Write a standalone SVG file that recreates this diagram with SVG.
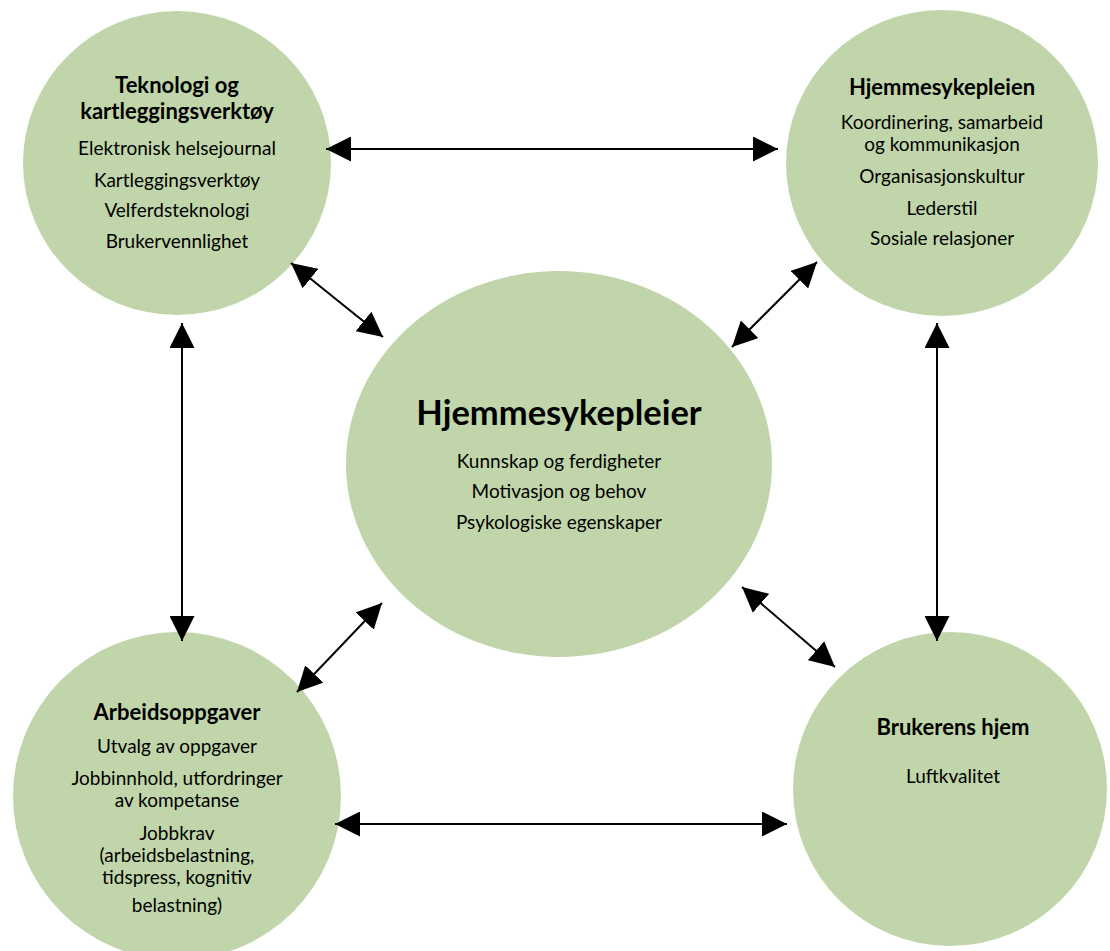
<svg xmlns="http://www.w3.org/2000/svg" width="1110" height="951" viewBox="0 0 1110 951">
<style>
.node{fill:#C0D6AA;}
.t{font-family:Lato,"Liberation Sans",sans-serif;fill:#000;text-anchor:middle;}
.h{font-size:22px;font-weight:bold;}
.b{font-size:19px;}
.c{font-size:34.5px;font-weight:bold;}
.con line{stroke:#000;stroke-width:2;marker-start:url(#ah);marker-end:url(#ah);}
</style>
<defs>
<marker id="ah" markerUnits="userSpaceOnUse" markerWidth="25" markerHeight="25" viewBox="0 0 25 25" refX="25" refY="12.5" orient="auto-start-reverse">
<path d="M0,0 L25,12.5 L0,25 z" fill="#000"/>
</marker>
</defs>
<rect width="1110" height="951" fill="#fff"/>
<g id="teknologi">
<ellipse class="node" cx="177" cy="163" rx="154" ry="152"/>
<text class="t h" x="177" y="93">Teknologi og</text>
<text class="t h" x="177" y="119">kartleggingsverktøy</text>
<text class="t b" x="177" y="155">Elektronisk helsejournal</text>
<text class="t b" x="177" y="187">Kartleggingsverktøy</text>
<text class="t b" x="177" y="217">Velferdsteknologi</text>
<text class="t b" x="177" y="248">Brukervennlighet</text>
</g>
<g id="hjemmesykepleien">
<ellipse class="node" cx="942" cy="163" rx="156" ry="153"/>
<text class="t h" x="942" y="95">Hjemmesykepleien</text>
<text class="t b" x="942" y="129">Koordinering, samarbeid</text>
<text class="t b" x="942" y="151">og kommunikasjon</text>
<text class="t b" x="942" y="183">Organisasjonskultur</text>
<text class="t b" x="942" y="215">Lederstil</text>
<text class="t b" x="942" y="245">Sosiale relasjoner</text>
</g>
<g id="hjemmesykepleier">
<ellipse class="node" cx="559" cy="464" rx="213" ry="193"/>
<text class="t c" x="559" y="425">Hjemmesykepleier</text>
<text class="t b" x="559" y="468">Kunnskap og ferdigheter</text>
<text class="t b" x="559" y="498">Motivasjon og behov</text>
<text class="t b" x="559" y="529">Psykologiske egenskaper</text>
</g>
<g id="arbeidsoppgaver">
<ellipse class="node" cx="177" cy="796" rx="164" ry="164"/>
<text class="t h" x="177" y="720">Arbeidsoppgaver</text>
<text class="t b" x="177" y="753">Utvalg av oppgaver</text>
<text class="t b" x="177" y="785">Jobbinnhold, utfordringer</text>
<text class="t b" x="177" y="807">av kompetanse</text>
<text class="t b" x="177" y="840">Jobbkrav</text>
<text class="t b" x="177" y="862">(arbeidsbelastning,</text>
<text class="t b" x="177" y="884">tidspress, kognitiv</text>
<text class="t b" x="177" y="912">belastning)</text>
</g>
<g id="brukerens-hjem">
<ellipse class="node" cx="950" cy="789" rx="157" ry="157"/>
<text class="t h" x="953" y="735">Brukerens hjem</text>
<text class="t b" x="953" y="783">Luftkvalitet</text>
</g>
<g id="connectors" class="con">
<line x1="326" y1="149" x2="778" y2="149"/>
<line x1="291" y1="263" x2="383" y2="337"/>
<line x1="817" y1="262" x2="732" y2="347"/>
<line x1="382" y1="603" x2="297" y2="692"/>
<line x1="742" y1="587" x2="835" y2="667"/>
<line x1="335" y1="824" x2="787" y2="824"/>
<line x1="182" y1="323" x2="182" y2="641"/>
<line x1="937" y1="323" x2="937" y2="641"/>
</g>
</svg>
